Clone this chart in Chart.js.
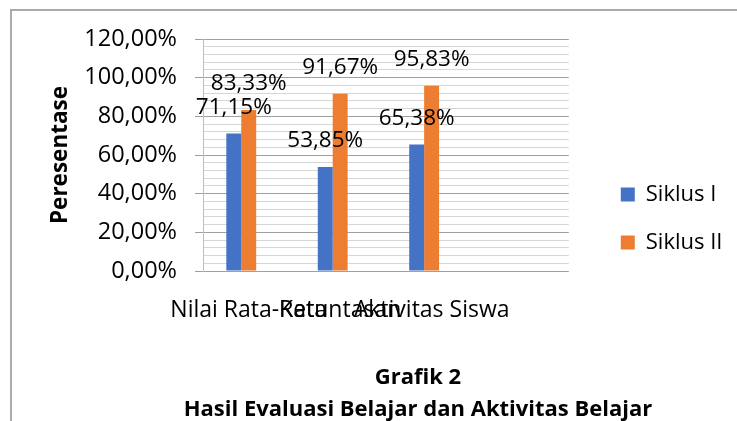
<!DOCTYPE html>
<html>
<head>
<meta charset="utf-8">
<script src="https://cdn.jsdelivr.net/npm/chart.js@4.4.1/dist/chart.umd.min.js"></script>
<style>
  html, body { margin:0; padding:0; background:#fff; width:737px; height:421px; overflow:hidden; }
  #frame { position:absolute; left:10px; top:9px; width:900px; height:600px;
           border-left:2px solid #ababab; border-top:2px solid #ababab; box-sizing:border-box; }
  #c { position:absolute; left:0; top:0; }
  .ttl { position:absolute; left:0; width:836px; text-align:center; white-space:nowrap;
         font-family:'Open Sans', sans-serif; font-weight:bold; font-size:22px; line-height:24px; color:#000; }
</style>
</head>
<body>
<div id="frame"></div>
<canvas id="c" width="737" height="421"></canvas>
<div class="ttl" id="t1" style="top:363px"></div>
<div class="ttl" id="t2" style="top:395px"></div>
<script>
// ---- data ----
const categories = ['Nilai Rata-Rata', 'Ketuntasan', 'Aktivitas Siswa', ''];
const seriesNames = ['Siklus I', 'Siklus II'];
const siklusI = [71.15, 53.85, 65.38];
const siklusII = [83.33, 91.67, 95.83];
const reservedSeries = [];            // empty third series slot (as in the original chart)
const yMajorTicks = [0, 20, 40, 60, 80, 100, 120];
const yMinorStep = 4;
const axisTitle = 'Peresentase';
const chartTitle = ['Grafik 2', 'Hasil Evaluasi Belajar dan Aktivitas Belajar'];

// ---- styles ----
const FONT = "'Open Sans', sans-serif";
const BLUE = '#4472C4', ORANGE = '#ED7D31';
const MAJOR = '#a0a0a0', MINOR = '#d6d6d6';

const fmt = v => v.toFixed(2).replace('.', ',') + '%';
const isMajor = v => yMajorTicks.includes(Math.round(v * 100) / 100);

document.getElementById('t1').textContent = chartTitle[0];
document.getElementById('t2').textContent = chartTitle[1];

Chart.defaults.font.family = FONT;
Chart.defaults.color = '#000';

const valueLabels = {
  id: 'valueLabels',
  afterDatasetsDraw(chart) {
    const ctx = chart.ctx;
    ctx.save();
    ctx.font = "22.5px " + FONT;
    ctx.fillStyle = '#000';
    ctx.textAlign = 'center';
    ctx.textBaseline = 'middle';
    for (let di = 0; di < seriesNames.length; di++) {
      const meta = chart.getDatasetMeta(di);
      meta.data.forEach((bar, i) => {
        const v = chart.data.datasets[di].data[i];
        if (v == null) return;
        ctx.fillText(fmt(v), bar.x, bar.y - 26);
      });
    }
    ctx.restore();
  }
};

new Chart(document.getElementById('c'), {
  type: 'bar',
  data: {
    labels: categories,
    datasets: [
      { label: seriesNames[0], data: siklusI, backgroundColor: BLUE, yAxisID: 'y' },
      { label: seriesNames[1], data: siklusII, backgroundColor: ORANGE, yAxisID: 'y' },
      { label: '', data: reservedSeries, backgroundColor: 'rgba(0,0,0,0)', yAxisID: 'y' }
    ]
  },
  options: {
    responsive: false,
    animation: false,
    events: [],
    layout: { padding: { left: 47, right: 4.5, top: 39, bottom: 23 } },
    datasets: { bar: { barPercentage: 1, categoryPercentage: 0.49 } },
    plugins: {
      tooltip: { enabled: false },
      title: { display: false },
      legend: {
        position: 'right',
        maxWidth: 300,
        labels: {
          filter: item => item.datasetIndex < seriesNames.length,
          boxWidth: 14, boxHeight: 14, padding: 26,
          color: '#000', font: { size: 22 }
        }
      }
    },
    scales: {
      x: {
        type: 'category',
        offset: true,
        grid: { display: false },
        border: { display: false },
        ticks: { autoSkip: false, maxRotation: 0, minRotation: 0, padding: 18, color: '#000', font: { size: 23 } },
        afterFit: s => { s.height = 127; }
      },
      y: {
        type: 'linear',
        position: 'left',
        min: yMajorTicks[0],
        max: yMajorTicks[yMajorTicks.length - 1],
        ticks: {
          stepSize: yMinorStep, autoSkip: false, padding: 18, color: '#000', font: { size: 23.5 },
          callback: v => isMajor(v) ? fmt(v) : ''
        },
        grid: {
          color: c => (c.tick && isMajor(c.tick.value)) ? MAJOR : MINOR,
          tickColor: c => (c.tick && isMajor(c.tick.value)) ? MAJOR : 'rgba(0,0,0,0)',
          tickLength: 8,
          lineWidth: 1
        },
        border: { display: true, color: '#bfbfbf', width: 1 },
        title: { display: true, text: axisTitle, color: '#000', font: { size: 22.5, weight: 'bold' }, padding: { top: 0, bottom: 0 } },
        afterFit: s => { s.width = 156; }
      },
      gap: {
        type: 'linear',
        position: 'right',
        display: true,
        grid: { display: false, drawTicks: false },
        border: { display: false },
        ticks: { display: false },
        afterFit: s => { s.width = 26; }
      }
    }
  },
  plugins: [valueLabels]
});
</script>
</body>
</html>
